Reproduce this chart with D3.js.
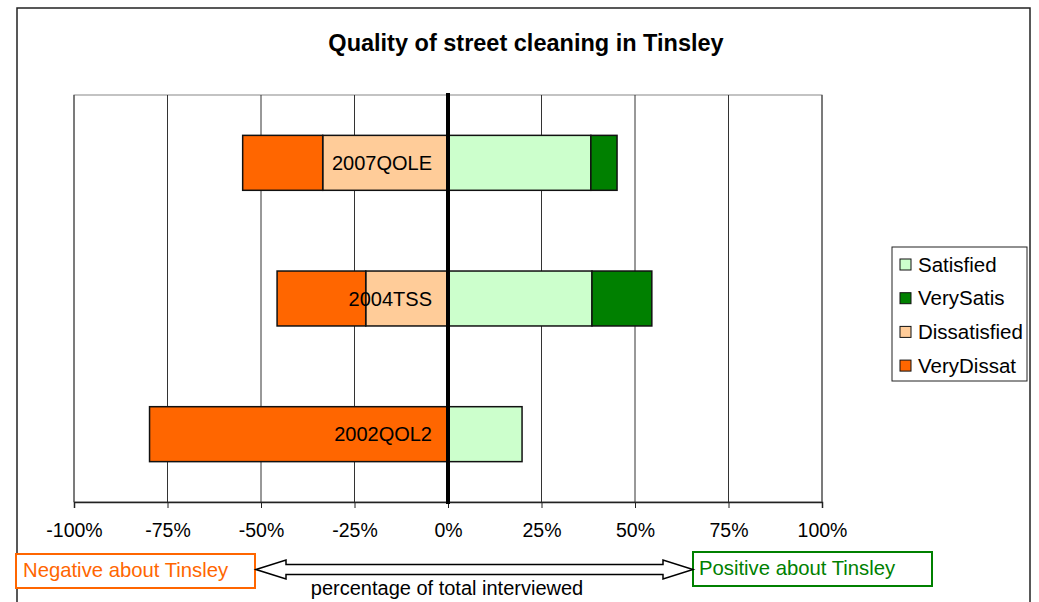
<!DOCTYPE html>
<html>
<head>
<meta charset="utf-8">
<script src="https://cdn.jsdelivr.net/npm/d3@7"></script>
<style>
	body { margin: 0; background: #fff; }
	text { font-family: "Liberation Sans", Arial, sans-serif; }
</style>
</head>
<body>
<div id="chart"></div>
<script>
var surveys = ['2007QOLE', '2004TSS', '2002QOL2']
var satisfied = [38.2, 38.5, 19.8]
var verySatis = [7.0, 16.0, 0]
var dissatisfied = [33.5, 22.0, 0]
var veryDissat = [21.4, 23.7, 79.8]
var ticks = [-100, -75, -50, -25, 0, 25, 50, 75, 100]
var legendNames = ['Satisfied', 'VerySatis', 'Dissatisfied', 'VeryDissat']
var legendColors = ['#ccffcc', '#008000', '#ffcc99', '#ff6600']

var width = 1039,
	height = 602

var svg = d3.select('#chart')
	.append('svg')
	.attr('width', width)
	.attr('height', height)

// chart area border
svg.append('rect')
	.attr('x', 17).attr('y', 8)
	.attr('width', 1013).attr('height', 640)
	.attr('fill', '#fff')
	.attr('stroke', '#222')
	.attr('stroke-width', 1.5)

var x = d3.scaleLinear()
	.domain([-100, 100])
	.range([74, 822])

var y = d3.scaleBand()
	.domain(surveys)
	.range([95, 502])
	.paddingInner(0.595)
	.paddingOuter(0.2975)

svg.append('text')
	.attr('x', 526).attr('y', 43)
	.attr('text-anchor', 'middle')
	.attr('dominant-baseline', 'central')
	.attr('font-size', 23.5)
	.attr('font-weight', 'bold')
	.text('Quality of street cleaning in Tinsley')

// plot area
svg.append('rect')
	.attr('x', x(-100)).attr('y', 95)
	.attr('width', x(100) - x(-100)).attr('height', 502 - 95)
	.attr('fill', '#fff')
	.attr('stroke', '#888')

svg.append('g')
	.selectAll('line')
	.data(ticks.filter(d => d != 0))
	.join('line')
		.attr('x1', d => x(d)).attr('x2', d => x(d))
		.attr('y1', 95).attr('y2', 502)
		.attr('stroke', '#333')
		.attr('stroke-width', 1)

// stacked segments
var segments = []
surveys.forEach((s, i) => {
	segments.push({ s: s, x0: 0, x1: satisfied[i], c: legendColors[0] })
	segments.push({ s: s, x0: satisfied[i], x1: satisfied[i] + verySatis[i], c: legendColors[1] })
	segments.push({ s: s, x0: -dissatisfied[i], x1: 0, c: legendColors[2] })
	segments.push({ s: s, x0: -dissatisfied[i] - veryDissat[i], x1: -dissatisfied[i], c: legendColors[3] })
})

svg.append('g')
	.selectAll('rect')
	.data(segments.filter(d => d.x1 - d.x0 > 0))
	.join('rect')
		.attr('x', d => x(d.x0))
		.attr('y', d => y(d.s))
		.attr('width', d => x(d.x1) - x(d.x0))
		.attr('height', y.bandwidth())
		.attr('fill', d => d.c)
		.attr('stroke', '#111')
		.attr('stroke-width', 1.5)

// axis
var axis = svg.append('g')
	.attr('transform', 'translate(0,502)')
	.call(d3.axisBottom(x)
		.tickValues(ticks)
		.tickSize(6)
		.tickPadding(15)
		.tickFormat(d => d + '%'))

axis.select('.domain').attr('stroke', '#222').attr('stroke-width', 1.5)
axis.selectAll('.tick line').attr('stroke', '#222')
axis.selectAll('text')
	.attr('font-size', 19.5)
	.attr('font-family', '"Liberation Sans", Arial, sans-serif')
	.attr('fill', '#000')

// zero line
svg.append('line')
	.attr('x1', x(0)).attr('x2', x(0))
	.attr('y1', 93).attr('y2', 504)
	.attr('stroke', '#000')
	.attr('stroke-width', 4)

svg.append('g')
	.selectAll('text')
	.data(surveys)
	.join('text')
		.attr('x', x(0) - 16)
		.attr('y', d => y(d) + y.bandwidth() / 2)
		.attr('text-anchor', 'end')
		.attr('dominant-baseline', 'central')
		.attr('font-size', 20)
		.text(d => d)

// legend
var legend = svg.append('g')
legend.append('rect')
	.attr('x', 892).attr('y', 247)
	.attr('width', 135).attr('height', 134)
	.attr('fill', '#fff')
	.attr('stroke', '#222')

var item = legend.selectAll('g')
	.data(legendNames)
	.join('g')
		.attr('transform', (d, i) => 'translate(900,' + (264 + i * 33.7) + ')')

item.append('rect')
	.attr('x', 0).attr('y', -5)
	.attr('width', 11).attr('height', 11)
	.attr('fill', (d, i) => legendColors[i])
	.attr('stroke', '#111')

item.append('text')
	.attr('x', 18).attr('y', 0)
	.attr('dominant-baseline', 'central')
	.attr('font-size', 20.5)
	.text(d => d)

// bottom annotations
svg.append('rect')
	.attr('x', 16).attr('y', 554)
	.attr('width', 239).attr('height', 34)
	.attr('fill', '#fff')
	.attr('stroke', '#ff6600')
	.attr('stroke-width', 2)

svg.append('text')
	.attr('x', 23).attr('y', 570)
	.attr('dominant-baseline', 'central')
	.attr('font-size', 20.3)
	.attr('fill', '#ff6600')
	.text('Negative about Tinsley')

svg.append('rect')
	.attr('x', 693).attr('y', 552)
	.attr('width', 239).attr('height', 34)
	.attr('fill', '#fff')
	.attr('stroke', '#008000')
	.attr('stroke-width', 2)

svg.append('text')
	.attr('x', 699).attr('y', 568)
	.attr('dominant-baseline', 'central')
	.attr('font-size', 20.3)
	.attr('fill', '#008000')
	.text('Positive about Tinsley')

var ay = 569.5
svg.append('polygon')
	.attr('points', [
		[256, ay], [286, ay - 9.5], [286, ay - 5], [663, ay - 5], [663, ay - 9.5],
		[693, ay], [663, ay + 9.5], [663, ay + 5], [286, ay + 5], [286, ay + 9.5]
	].map(p => p.join(',')).join(' '))
	.attr('fill', '#fff')
	.attr('stroke', '#000')
	.attr('stroke-width', 1.5)

svg.append('text')
	.attr('x', 447).attr('y', 588)
	.attr('text-anchor', 'middle')
	.attr('dominant-baseline', 'central')
	.attr('font-size', 20)
	.text('percentage of total interviewed')
</script>
</body>
</html>
